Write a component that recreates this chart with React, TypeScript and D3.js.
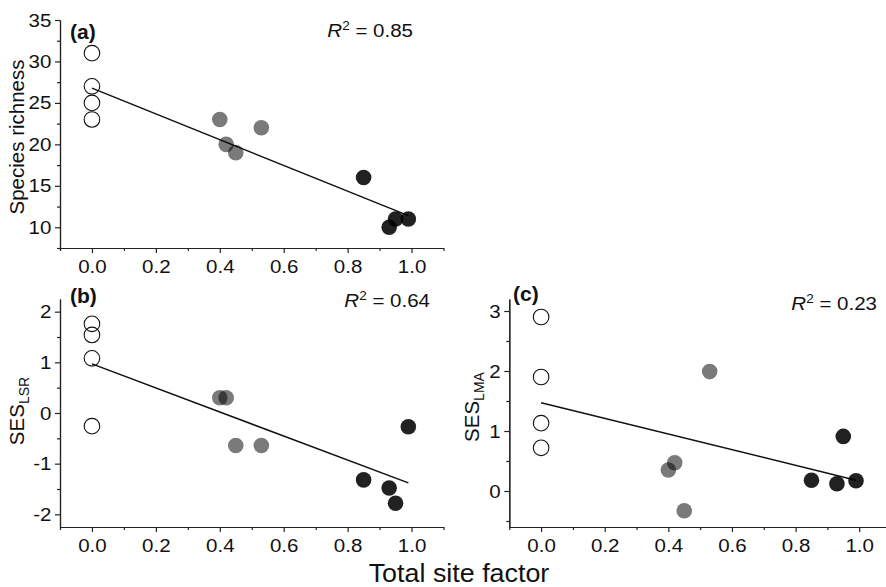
import React, { useRef, useEffect } from 'react'
import * as d3 from 'd3'

// site values, one entry per site, same order in every panel
const siteFactor = [0, 0, 0, 0, 0.40, 0.42, 0.45, 0.53, 0.85, 0.93, 0.95, 0.99]
const siteGroup = ['open', 'open', 'open', 'open', 'grey', 'grey', 'grey', 'grey', 'dark', 'dark', 'dark', 'dark']
const speciesRichness = [31, 27, 25, 23, 23, 20, 19, 22, 16, 10, 11, 11]
const sesLSR = [1.76, 1.54, 1.08, -0.26, 0.30, 0.30, -0.64, -0.64, -1.32, -1.48, -1.78, -0.27]
const sesLMA = [2.9, 1.9, 1.13, 0.72, 0.35, 0.47, -0.33, 1.99, 0.18, 0.12, 0.91, 0.17]

// fitted regression lines, [x, y] at both ends
const fitA = [[0, 26.78], [0.99, 11.4]]
const fitB = [[0, 0.97], [0.99, -1.38]]
const fitC = [[0, 1.47], [0.99, 0.18]]

const rSquared = ['0.85', '0.64', '0.23']
const panelLetters = ['(a)', '(b)', '(c)']

const xMajor = [0, 0.2, 0.4, 0.6, 0.8, 1.0]
const xMinor = [-0.1, 0.1, 0.3, 0.5, 0.7, 0.9, 1.1]
const yMajorA = [10, 15, 20, 25, 30, 35]
const yMinorA = [7.5, 12.5, 17.5, 22.5, 27.5, 32.5]
const yMajorB = [-2, -1, 0, 1, 2]
const yMinorB = [-1.5, -0.5, 0.5, 1.5]
const yMajorC = [0, 1, 2, 3]
const yMinorC = [-0.5, 0.5, 1.5, 2.5]

const FONT = "'Liberation Sans', Arial, Helvetica, sans-serif"
const SX = 1.08

const App = () => {
    const svgRef = useRef(null)

    useEffect(() => {
        const svg = d3.select(svgRef.current)
        svg.selectAll('*').remove()

        const panels = [
            { values: speciesRichness, fit: fitA, yDomain: [7.5, 35], yMajor: yMajorA, yMinor: yMinorA,
              left: 60, right: 443.5, top: 20, bottom: 248,
              letter: [70, 39], r2: [413, 37], label: [24, 137], sub: null, title: 'Species richness' },
            { values: sesLSR, fit: fitB, yDomain: [-2.25, 2.25], yMajor: yMajorB, yMinor: yMinorB,
              left: 60, right: 443.5, top: 299, bottom: 527,
              letter: [70, 303], r2: [430, 307], label: [24, 411], sub: 'LSR', title: 'SES' },
            { values: sesLMA, fit: fitC, yDomain: [-0.6, 3.2], yMajor: yMajorC, yMinor: yMinorC,
              left: 509.3, right: 891, top: 299, bottom: 527,
              letter: [513, 301], r2: [877, 310], label: [479, 407], sub: 'LMA', title: 'SES' },
        ]

        panels.forEach((p, i) => {
            const g = svg.append('g')
            const x = d3.scaleLinear().domain([-0.1, 1.1]).range([p.left, p.right])
            const y = d3.scaleLinear().domain(p.yDomain).range([p.bottom, p.top])

            // minor ticks
            g.append('g')
                .attr('transform', `translate(0,${p.bottom})`)
                .call(d3.axisBottom(x).tickValues(xMinor).tickSize(3).tickSizeOuter(0).tickFormat(() => ''))
            g.append('g')
                .attr('transform', `translate(${p.left},0)`)
                .call(d3.axisLeft(y).tickValues(p.yMinor).tickSize(3).tickSizeOuter(0).tickFormat(() => ''))

            // major ticks + labels
            g.append('g')
                .attr('class', 'x-axis')
                .attr('transform', `translate(0,${p.bottom})`)
                .call(d3.axisBottom(x).tickValues(xMajor).tickSize(5).tickSizeOuter(0).tickPadding(7)
                    .tickFormat(d => d.toFixed(1)))
            g.append('g')
                .attr('class', 'y-axis')
                .attr('transform', `translate(${p.left},0)`)
                .call(d3.axisLeft(y).tickValues(p.yMajor).tickSize(5).tickSizeOuter(0).tickPadding(3)
                    .tickFormat(d => `${d}`))

            g.selectAll('.domain').attr('stroke', '#222').attr('stroke-width', 1.2)
            g.selectAll('.tick line').attr('stroke', '#222').attr('stroke-width', 1.2)
            g.selectAll('.tick text')
                .attr('fill', '#111')
                .style('font-family', FONT)
                .style('font-size', '19px')
                .attr('transform', `scale(${SX},1)`)

            // fit line
            g.append('path')
                .datum(p.fit)
                .attr('d', d3.line().x(d => x(d[0])).y(d => y(d[1])))
                .attr('fill', 'none')
                .attr('stroke', '#111')
                .attr('stroke-width', 1.5)

            // points
            g.selectAll('.pt')
                .data(p.values.map((v, k) => ({ x: siteFactor[k], y: v, grp: siteGroup[k] })))
                .join('circle')
                .attr('class', 'pt')
                .attr('cx', d => x(d.x))
                .attr('cy', d => y(d.y))
                .attr('r', 7.8)
                .attr('fill', d => d.grp === 'open' ? 'none' : '#000')
                .attr('fill-opacity', d => d.grp === 'grey' ? 0.52 : 0.87)
                .attr('stroke', d => d.grp === 'open' ? '#111' : 'none')
                .attr('stroke-width', 1.1)

            // panel letter
            g.append('text')
                .attr('transform', `translate(${p.letter[0]},${p.letter[1]}) scale(${SX},1)`)
                .style('font-family', FONT)
                .style('font-size', '19.5px')
                .style('font-weight', 'bold')
                .attr('fill', '#111')
                .text(panelLetters[i])

            // R squared
            const r2 = g.append('text')
                .attr('transform', `translate(${p.r2[0]},${p.r2[1]}) scale(${SX},1)`)
                .attr('text-anchor', 'end')
                .style('font-family', FONT)
                .style('font-size', '19px')
                .attr('fill', '#111')
            r2.append('tspan').style('font-style', 'italic').text('R')
            r2.append('tspan').attr('dy', -7.5).style('font-size', '12.5px').text('2')
            r2.append('tspan').attr('dy', 7.5).text(` = ${rSquared[i]}`)

            // y label
            const yl = g.append('text')
                .attr('transform', `translate(${p.label[0]},${p.label[1]}) rotate(-90)`)
                .attr('text-anchor', 'middle')
                .style('font-family', FONT)
                .style('font-size', '20.5px')
                .attr('fill', '#111')
            yl.append('tspan').text(p.title)
            if (p.sub) {
                yl.append('tspan').attr('dy', 5.3).style('font-size', '14px').text(p.sub)
            }
        })

        svg.append('text')
            .attr('transform', `translate(459,582) scale(1.075,1)`)
            .attr('text-anchor', 'middle')
            .style('font-family', FONT)
            .style('font-size', '25px')
            .attr('fill', '#111')
            .text('Total site factor')
    }, [])

    return (
        <svg ref={svgRef} width={886} height={587}
            style={{ position: 'absolute', left: 0, top: 0, background: '#fff' }} />
    )
}

export default App
